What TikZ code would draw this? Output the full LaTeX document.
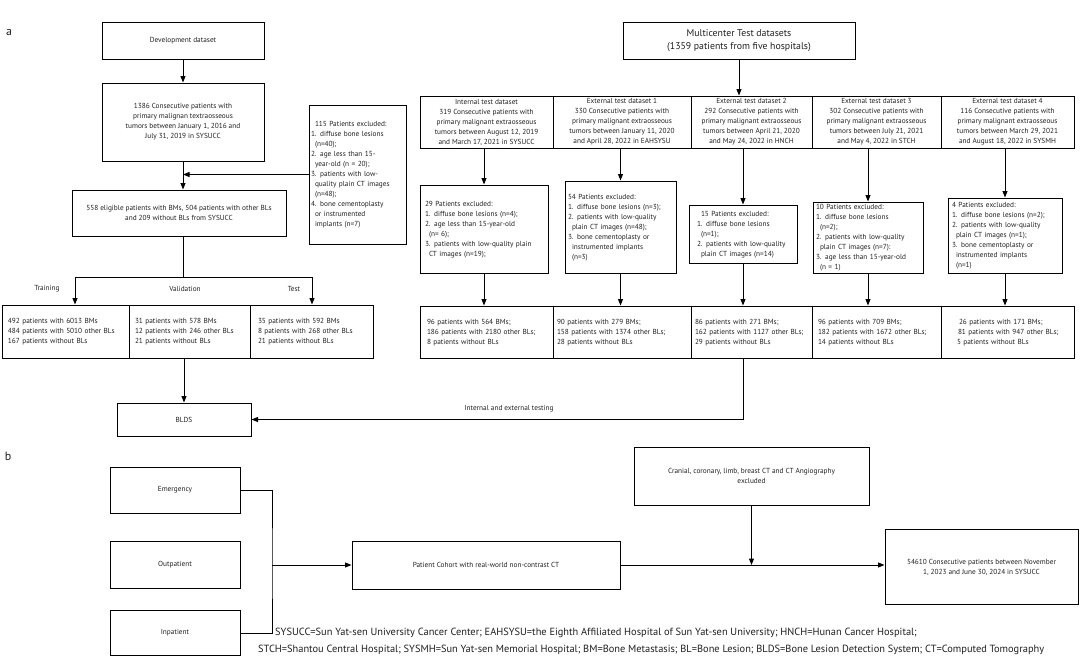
\documentclass[tikz,border=0pt]{standalone}
\usepackage{fontspec}
\setmainfont{PT Sans}
\usetikzlibrary{arrows.meta}
\definecolor{ink}{HTML}{231F20}
\newcommand\fsm{\fontsize{7.3}{10}\selectfont}
\newcommand\ind{\hspace*{4pt}}
\newcommand\tl[1]{\begin{tabular}{@{}l@{}}#1\end{tabular}}
\tikzset{
  box/.style={draw=black, line width=1pt, inner sep=0pt, font=\fsm, text=ink},
  cbox/.style={box, align=center},
  lbox/.style={box, align=left},
  arr/.style={-{Triangle[length=6.5pt,width=5pt]}, line width=1pt, draw=black},
  ln/.style={line width=1pt, draw=black},
  lab/.style={font=\fsm, text=ink, inner sep=0pt},
  leg/.style={font=\fontsize{10.4}{12}\selectfont, text=ink, inner sep=0pt},
  panel/.style={font=\fontsize{12}{14}\selectfont, text=ink, inner sep=0pt}
}
\begin{document}
\begin{tikzpicture}[x=1pt,y=-1pt]
\useasboundingbox[fill=white] (0,0) rectangle (1080,659);

% panel labels
\node[panel] (pa) at (9,32) {a};
\node[panel] (pb) at (8,456) {b};

% ---------- development side ----------
\node[cbox, minimum width=162, minimum height=37] (dev) at (183,40.5) {Development dataset};
\node[cbox, minimum width=162, minimum height=78] (c1386) at (183,122) {1386 Consecutive patients with\\primary malignan textraosseous\\tumors between January 1, 2016 and\\July 31, 2019 in SYSUCC};
\node[lbox, text width=93, inner xsep=2, minimum height=139] (x115) at (357.5,174.5) {\tl{\ind 115 Patients excluded:\\1. diffuse bone lesions\\\ind(n=40);\\2. age less than 15-\\\ind year-old (n = 20);\\3. patients with low-\\\ind quality plain CT images\\\ind(n=48);\\4. bone cementoplasty\\\ind or instrumented\\\ind implants (n=7)}};
\node[cbox, minimum width=214, minimum height=46] (c558) at (179,213) {558 eligible patients with BMs, 504 patients with other BLs\\and 209 without BLs from SYSUCC};

\node[lbox, text width=115, inner xsep=6, minimum height=53] (tr) at (65.5,331.5) {\tl{492 patients with 6013 BMs\\484 patients with 5010 other BLs\\167 patients without BLs}};
\node[lbox, text width=109, inner xsep=6, minimum height=53] (va) at (189.5,331.5) {\tl{31 patients with 578 BMs\\12 patients with 246 other BLs\\21 patients without BLs}};
\node[lbox, text width=107, inner xsep=8, minimum height=53] (te) at (311.5,331.5) {\tl{35 patients with 592 BMs\\8 patients with 268 other BLs\\21 patients without BLs}};

\node[lab] (ltr) at (47,289) {Training};
\node[lab] (lva) at (185,289) {Validation};
\node[lab] (lte) at (294,289) {Test};

\node[cbox, minimum width=134, minimum height=33] (bl) at (184,419.5) {BLDS};

\draw[arr] (dev.south) -- (c1386.north);
\draw[arr] (c1386.south) -- (c1386.south |- c558.north);
\draw[arr] (x115.west) -- (x115.west -| c1386.south);
\coordinate (sp) at (183,277);
\coordinate (spl) at (75,277);
\coordinate (spr) at (312,277);
\draw[ln] (c558.south -| sp) -- (sp);
\draw[arr] (sp) -| (spl |- tr.north);
\draw[arr] (sp) -| (spr |- te.north);
\draw[arr] (bl.north |- va.south) -- (bl.north);

% ---------- multicenter side ----------
\node[cbox, minimum width=232, minimum height=37, font=\fontsize{9.8}{12.5}\selectfont] (mc) at (739,40.5) {Multicenter Test datasets\\(1359 patients from five hospitals)};

\node[cbox, minimum width=133, minimum height=52] (d0) at (486.5,122) {Internal test dataset\\319 Consecutive patients with\\primary malignant extraosseous\\tumors between August 12, 2019\\and March 17, 2021 in SYSUCC};
\node[cbox, minimum width=138, minimum height=52] (d1) at (622,122) {External test dataset 1\\330 Consecutive patients with\\primary malignant extraosseous\\tumors between January 11, 2020\\and April 28, 2022 in EAHSYSU};
\node[cbox, minimum width=121, minimum height=52] (d2) at (751.5,122) {External test dataset 2\\292 Consecutive patients with\\primary malignant extraosseous\\tumors between April 21, 2020\\and May 24, 2022 in HNCH};
\node[cbox, minimum width=129, minimum height=52] (d3) at (876.5,122) {External test dataset 3\\302 Consecutive patients with\\primary malignant extraosseous\\tumors between July 21, 2021\\and May 4, 2022 in STCH};
\node[cbox, minimum width=133, minimum height=52] (d4) at (1007.5,122) {External test dataset 4\\116 Consecutive patients with\\primary malignant extraosseous\\tumors between March 29, 2021\\and August 18, 2022 in SYSMH};

\node[lbox, text width=118, inner xsep=5, minimum height=88] (e0) at (484,229) {\tl{29 Patients excluded:\\1. diffuse bone lesions (n=4);\\2. age less than 15-year-old\\\ind(n= 6);\\3. patients with low-quality plain\\\ind CT images (n=19);}};
\node[lbox, text width=105, inner xsep=3, minimum height=92] (e1) at (620.5,227) {\tl{54 Patients excluded:\\1. diffuse bone lesions (n=3);\\2. patients with low-quality\\\ind plain CT images (n=48);\\3. bone cementoplasty or\\\ind instrumented implants\\\ind(n=3)}};
\node[lbox, text width=92, inner xsep=8, minimum height=58] (e2) at (743,234) {\tl{\ind 15 Patients excluded:\\1. diffuse bone lesions\\\ind(n=1);\\2. patients with low-quality\\\ind plain CT images (n=14)}};
\node[lbox, text width=104, inner xsep=3, minimum height=71] (e3) at (868,237.5) {\tl{10 Patients excluded:\\1. diffuse bone lesions\\\ind(n=2);\\2. patients with low-quality\\\ind plain CT images (n=7):\\3. age less than 15-year-old\\\ind(n = 1)}};
\node[lbox, text width=106, inner xsep=4, minimum height=75] (e4) at (1005,235.5) {\tl{4 Patients excluded:\\1. diffuse bone lesions (n=2);\\2. patients with low-quality\\\ind plain CT images (n=1);\\3. bone cementoplasty or\\\ind instrumented implants\\\ind(n=1)}};

\node[lbox, text width=119, inner xsep=7, minimum height=52] (r0) at (486.5,332) {\tl{96 patients with 564 BMs;\\186 patients with 2180 other BLs;\\8 patients without BLs}};
\node[lbox, text width=130, inner xsep=4, minimum height=52] (r1) at (622,332) {\tl{90 patients with 279 BMs;\\158 patients with 1374 other BLs;\\28 patients without BLs}};
\node[lbox, text width=113, inner xsep=4, minimum height=52] (r2) at (751.5,332) {\tl{86 patients with 271 BMs;\\162 patients with 1127 other BLs;\\29 patients without BLs}};
\node[lbox, text width=117, inner xsep=6, minimum height=52] (r3) at (876.5,332) {\tl{96 patients with 709 BMs;\\182 patients with 1672 other BLs;\\14 patients without BLs}};
\node[lbox, text width=101, inner xsep=16, minimum height=52] (r4) at (1007.5,332) {\tl{\hspace*{2pt}26 patients with 171 BMs;\\\hspace*{1pt}81 patients with 947 other BLs;\\5 patients without BLs}};

\draw[arr] (mc.south) -- (mc.south |- d2.north);
\foreach \i in {0,...,4}{
  \draw[arr] (e\i.north |- d\i.south) -- (e\i.north);
  \draw[arr] (e\i.south) -- (e\i.south |- r\i.north);
}
\draw[arr] (e2.south |- r2.south) |- (bl.east);
\node[lab] (tlab) at (509,409) {Internal and external testing};

% ---------- panel b ----------
\node[cbox, minimum width=130, minimum height=46] (em) at (175,490) {Emergency};
\node[cbox, minimum width=130, minimum height=47] (op) at (175,565) {Outpatient};
\node[cbox, minimum width=130, minimum height=45] (ip) at (175,633) {Inpatient};
\node[cbox, minimum width=268, minimum height=48] (pc) at (486,565) {Patient Cohort with real-world non-contrast CT};
\node[cbox, minimum width=235, minimum height=58] (cr) at (751.5,476) {Cranial, coronary, limb, breast CT and CT Angiography\\excluded};
\node[cbox, minimum width=193, minimum height=75] (fin) at (981.5,567) {54610 Consecutive patients between November\\1, 2023 and June 30, 2024 in SYSUCC};

\coordinate (jm) at (272,565);
\draw[ln] (em.east) -| (jm) |- (ip.east);
\draw[arr] (jm) -- (pc.west);
\draw[arr] (pc.east) -- (pc.east -| fin.west);
\draw[arr] (cr.south) -- (cr.south |- pc.east);

\node[leg, anchor=west] (lg1) at (275,633) {SYSUCC=Sun Yat-sen University Cancer Center; EAHSYSU=the Eighth Affiliated Hospital of Sun Yat-sen University; HNCH=Hunan Cancer Hospital;};
\node[leg, anchor=west] (lg2) at (258,650) {STCH=Shantou Central Hospital; SYSMH=Sun Yat-sen Memorial Hospital; BM=Bone Metastasis; BL=Bone Lesion; BLDS=Bone Lesion Detection System; CT=Computed Tomography};
\end{tikzpicture}
\end{document}
